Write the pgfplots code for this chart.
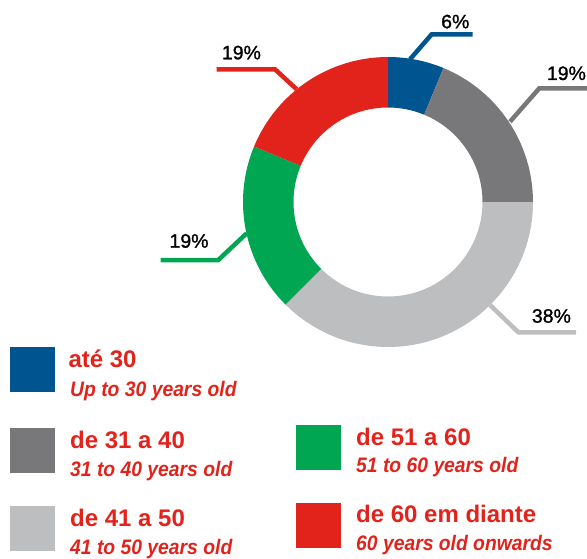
\documentclass[border=0pt]{standalone}
\usepackage{pgfplots}
\pgfplotsset{compat=1.18}
\usepackage{pgfplotstable}
\usepackage{fontspec}
\setmainfont{Liberation Sans}
\newfontfamily\subfont[FakeStretch=0.92]{Liberation Sans}
\newfontfamily\pctfont[FakeBold=1.2]{Liberation Sans}
\definecolor{cblue}{RGB}{0,84,143}
\definecolor{cdgray}{RGB}{120,120,122}
\definecolor{clgray}{RGB}{189,190,192}
\definecolor{cgreen}{RGB}{0,166,81}
\definecolor{cred}{RGB}{226,35,28}
\pgfplotstableread{
value color
6.25 cblue
18.75 cdgray
37.5 clgray
18.75 cgreen
18.75 cred
}\piedata
\newcommand\headA[1]{{\fontsize{24}{24}\selectfont\bfseries #1}}
\newcommand\headB[1]{{\subfont\fontsize{21}{21}\selectfont\bfseries\itshape #1}}
\newcommand\pct[1]{{\pctfont\fontsize{19.5}{19.5}\selectfont #1}}
\begin{document}
\begin{tikzpicture}
\useasboundingbox (0,0) rectangle (587pt,558pt);
\begin{axis}[at={(0,0)}, anchor=south west, scale only axis,
  width=587pt, height=558pt, xmin=0, xmax=587, ymin=0, ymax=558,
  hide axis, clip=false]
\pgfplotstablegetrowsof{\piedata}
\pgfmathtruncatemacro\nrows{\pgfplotsretval-1}
\gdef\angA{90}
\foreach \i in {0,...,\nrows}{
  \pgfplotstablegetelem{\i}{value}\of\piedata \let\v\pgfplotsretval
  \pgfplotstablegetelem{\i}{color}\of\piedata \let\c\pgfplotsretval
  \pgfmathsetmacro\angB{\angA-3.6*\v}
  \pgfmathsetmacro\angC{\angB+180}
  \edef\tmp{\noexpand\fill[\c] (axis cs:388,356) ++(\angA:145pt) arc[start angle=\angA, end angle=\angB, radius=145pt] -- ++(\angC:50.5pt) arc[start angle=\angB, end angle=\angA, radius=94.5pt] -- cycle;}
  \tmp
  \xdef\angA{\angB}
}
% leader lines
\addplot[cblue, line width=4.5pt, no marks] coordinates {(410,498.7) (431.7,523.7) (472.7,523.7)};
\addplot[cdgray, line width=4.5pt, no marks] coordinates {(510,436.3) (539.3,469.7) (587,469.7)};
\addplot[clgray, line width=4.5pt, no marks] coordinates {(490,253) (518.3,225.7) (576,225.7)};
\addplot[cgreen, line width=4.5pt, no marks] coordinates {(246.7,324.7) (218.3,298) (160.7,298)};
\addplot[cred, line width=4.5pt, no marks] coordinates {(296.7,468.7) (275,488.7) (216.7,488.7)};
% percent labels
\node[anchor=base west, inner sep=0] at (axis cs:441,529.7) {\pct{6\%}};
\node[anchor=base west, inner sep=0] at (axis cs:546.7,478) {\pct{19\%}};
\node[anchor=base west, inner sep=0] at (axis cs:531.7,235.3) {\pct{38\%}};
\node[anchor=base west, inner sep=0] at (axis cs:169.3,310.3) {\pct{19\%}};
\node[anchor=base west, inner sep=0] at (axis cs:221.7,498.7) {\pct{19\%}};
% legend
\fill[cblue] (axis cs:10,166.3) rectangle (axis cs:55,211.3);
\fill[cdgray] (axis cs:10,85.3) rectangle (axis cs:55,129.7);
\fill[clgray] (axis cs:10,7.3) rectangle (axis cs:55,52);
\fill[cgreen] (axis cs:296,88) rectangle (axis cs:341,133);
\fill[cred] (axis cs:296,10.3) rectangle (axis cs:341,54.7);
\begin{scope}[every node/.style={anchor=base west, inner sep=0, text=cred}]
\node at (axis cs:68.3,190.7) {\headA{até 30}};
\node at (axis cs:70,161.3) {\headB{Up to 30 years old}};
\node at (axis cs:70,109.7) {\headA{de 31 a 40}};
\node at (axis cs:70,81.3) {\headB{31 to 40 years old}};
\node at (axis cs:70,32) {\headA{de 41 a 50}};
\node at (axis cs:70,4) {\headB{41 to 50 years old}};
\node at (axis cs:356,113) {\headA{de 51 a 60}};
\node at (axis cs:356,85.3) {\headB{51 to 60 years old}};
\node at (axis cs:356,35.3) {\headA{de 60 em diante}};
\node at (axis cs:356,8) {\headB{60 years old onwards}};
\end{scope}
\end{axis}
\end{tikzpicture}
\end{document}
